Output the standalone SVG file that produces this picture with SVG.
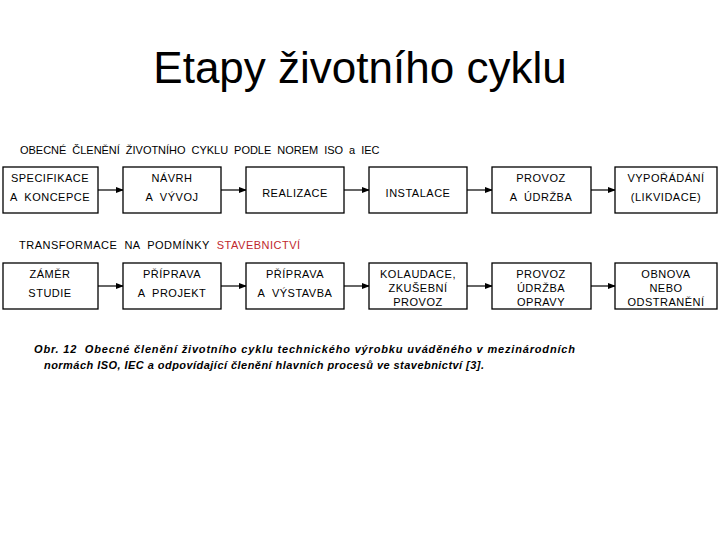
<svg xmlns="http://www.w3.org/2000/svg" width="720" height="540" viewBox="0 0 720 540">
<style>
text{font-family:"Liberation Sans",Arial,sans-serif;fill:#000;white-space:pre}
.b{fill:#fff;stroke:#000;stroke-width:1.3}
.t{font-size:11px;text-anchor:middle;letter-spacing:0.5px}
.h{font-size:11px;letter-spacing:0.5px}
.c{stroke:#000;stroke-width:1.2;marker-end:url(#a)}
</style>
<defs><marker id="a" markerWidth="8" markerHeight="6" refX="7" refY="3" orient="auto" markerUnits="userSpaceOnUse"><path d="M0,0L8,3L0,6z" fill="#000"/></marker></defs>
<rect width="720" height="540" fill="#fff"/>
<text x="360" y="83" font-size="44" text-anchor="middle">Etapy životního cyklu</text>
<text class="h" x="20" y="154" textLength="360" xml:space="preserve">OBECNÉ  ČLENĚNÍ  ŽIVOTNÍHO  CYKLU  PODLE  NOREM  ISO  a  IEC</text>
<text class="h" x="19" y="249" xml:space="preserve">TRANSFORMACE  NA  PODMÍNKY  <tspan fill="#c0282d">STAVEBNICTVÍ</tspan></text>
<g id="connectors">
<line class="c" x1="98" y1="190" x2="123" y2="190"/><line class="c" x1="221" y1="190" x2="246" y2="190"/><line class="c" x1="344" y1="190" x2="369" y2="190"/><line class="c" x1="467" y1="190" x2="492" y2="190"/><line class="c" x1="591" y1="190" x2="615" y2="190"/>
<line class="c" x1="98" y1="286" x2="123" y2="286"/><line class="c" x1="221" y1="286" x2="246" y2="286"/><line class="c" x1="344" y1="286" x2="369" y2="286"/><line class="c" x1="467" y1="286" x2="492" y2="286"/><line class="c" x1="591" y1="286" x2="615" y2="286"/>
</g>
<g id="n1"><rect class="b" x="3" y="167" width="95" height="46"/><text class="t" x="50" y="182">SPECIFIKACE</text><text class="t" x="50" y="201" xml:space="preserve">A  KONCEPCE</text></g>
<g id="n2"><rect class="b" x="123" y="167" width="98" height="46"/><text class="t" x="172" y="182">NÁVRH</text><text class="t" x="172" y="201" xml:space="preserve">A  VÝVOJ</text></g>
<g id="n3"><rect class="b" x="246" y="167" width="98" height="46"/><text class="t" x="295" y="197">REALIZACE</text></g>
<g id="n4"><rect class="b" x="369" y="167" width="98" height="46"/><text class="t" x="418" y="197">INSTALACE</text></g>
<g id="n5"><rect class="b" x="492" y="167" width="99" height="46"/><text class="t" x="541" y="182">PROVOZ</text><text class="t" x="541" y="201" xml:space="preserve">A  ÚDRŽBA</text></g>
<g id="n6"><rect class="b" x="615" y="167" width="102" height="46"/><text class="t" x="666" y="182">VYPOŘÁDÁNÍ</text><text class="t" x="666" y="201">(LIKVIDACE)</text></g>
<g id="m1"><rect class="b" x="3" y="263" width="95" height="46"/><text class="t" x="50" y="278">ZÁMĚR</text><text class="t" x="50" y="297">STUDIE</text></g>
<g id="m2"><rect class="b" x="123" y="263" width="98" height="46"/><text class="t" x="172" y="278">PŘÍPRAVA</text><text class="t" x="172" y="297" xml:space="preserve">A  PROJEKT</text></g>
<g id="m3"><rect class="b" x="246" y="263" width="98" height="46"/><text class="t" x="295" y="278">PŘÍPRAVA</text><text class="t" x="295" y="297" xml:space="preserve">A  VÝSTAVBA</text></g>
<g id="m4"><rect class="b" x="369" y="263" width="98" height="46"/><text class="t" x="418" y="278">KOLAUDACE,</text><text class="t" x="418" y="292">ZKUŠEBNÍ</text><text class="t" x="418" y="306">PROVOZ</text></g>
<g id="m5"><rect class="b" x="492" y="263" width="99" height="46"/><text class="t" x="541" y="278">PROVOZ</text><text class="t" x="541" y="292">ÚDRŽBA</text><text class="t" x="541" y="306">OPRAVY</text></g>
<g id="m6"><rect class="b" x="615" y="263" width="102" height="46"/><text class="t" x="666" y="278">OBNOVA</text><text class="t" x="666" y="292">NEBO</text><text class="t" x="666" y="306">ODSTRANĚNÍ</text></g>
<text x="34" y="353" font-size="11" font-style="italic" font-weight="bold" fill="#222" textLength="541" xml:space="preserve">Obr. 12  Obecné členění životního cyklu technického výrobku uváděného v mezinárodních</text>
<text x="44" y="369" font-size="11" font-style="italic" font-weight="bold" fill="#222" textLength="440">normách ISO, IEC a odpovídající členění hlavních procesů ve stavebnictví [3].</text>
</svg>
